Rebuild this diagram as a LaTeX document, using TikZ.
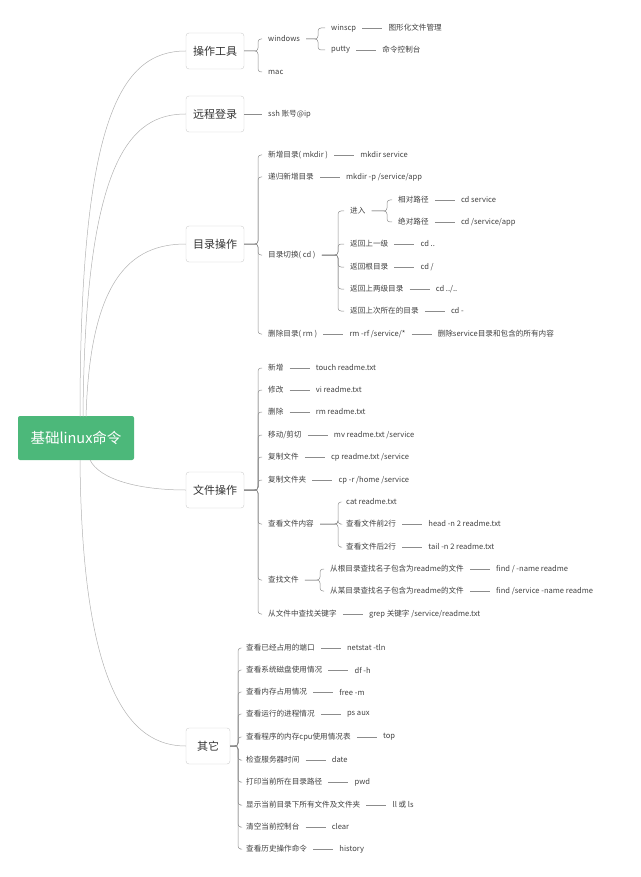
\documentclass[tikz,border=0pt]{standalone}
\usepackage{fontspec}
\setmainfont{Noto Sans CJK SC}
\usetikzlibrary{positioning}
\definecolor{rootg}{RGB}{76,184,122}
\begin{document}
\begin{tikzpicture}[x=1pt,y=-1pt,
  t/.style={anchor=west,inner xsep=6pt,inner ysep=3pt,font=\fontsize{7.6}{9}\selectfont,text=black!75},
  c/.style={t,right=20pt of #1.east,anchor=west},
  l1/.style={draw=black!20,rounded corners=3pt,minimum height=36pt,inner xsep=6pt,font=\fontsize{11}{13}\selectfont,text=black!80,fill=white},
  ln/.style={draw=black!45,line width=0.5pt},
  br/.style={ln,rounded corners=3pt},
  cv/.style={draw=black!30,line width=0.5pt}]
\useasboundingbox (0,0) rectangle (640,877);
\node[fill=rootg,rounded corners=2pt,minimum width=116pt,minimum height=44pt,text=white,font=\fontsize{14.5}{16}\selectfont] (root) at (76,438) {基础linux命令};
% level 1
\node[l1,minimum width=58pt] (a) at (215,51) {操作工具};
\node[l1,minimum width=58pt] (b) at (215,114) {远程登录};
\node[l1,minimum width=58pt] (c) at (215,244) {目录操作};
\node[l1,minimum width=58pt] (d) at (215,490) {文件操作};
\node[l1,minimum width=44pt] (e) at (208,746) {其它};
\draw[cv] (80,417) .. controls (80,120) and (120,51) .. (a.west);
\draw[cv] (83,417) .. controls (85,160) and (130,114) .. (b.west);
\draw[cv] (86,417) .. controls (90,280) and (130,244) .. (c.west);
\draw[cv] (90,460) .. controls (100,480) and (140,490) .. (d.west);
\draw[cv] (80,460) .. controls (82,690) and (130,746) .. (e.west);
% 操作工具
\coordinate (Ba) at (258,0); \coordinate (Bw) at (318,0);
\node[t] (a1) at (262,39) {windows};
\node[t] (a2) at (262,72) {mac};
\node[t] (w1) at (325,28) {winscp};
\node[t] (w2) at (325,50) {putty};
\node[c=w1] (w1a) {图形化文件管理};
\node[c=w2] (w2a) {命令控制台};
\foreach \n in {a1,a2} \draw[br] (a.east) -- (a.east -| Ba) |- (\n.west);
\foreach \n in {w1,w2} \draw[br] (a1.east) -- (a1.east -| Bw) |- (\n.west);
\draw[ln] (w1.east) -- (w1a.west); \draw[ln] (w2.east) -- (w2a.west);
% 远程登录
\node[t] (b1) at (262,114) {ssh 账号@ip};
\draw[ln] (b.east) -- (b1.west);
% 目录操作
\node[t] (c1) at (262,155) {新增目录( mkdir )};
\node[c=c1] (c1a) {mkdir service};
\node[t] (c2) at (262,177) {递归新增目录};
\node[c=c2] (c2a) {mkdir -p /service/app};
\node[t] (c3) at (262,255) {目录切换( cd )};
\node[t] (c4) at (262,334) {删除目录( rm )};
\node[c=c4] (c4a) {rm -rf /service/*};
\node[c=c4a] (c4b) {删除service目录和包含的所有内容};
\foreach \n in {c1,c2,c3,c4} \draw[br] (c.east) -- (c.east -| Ba) |- (\n.west);
\draw[ln] (c1.east) -- (c1a.west); \draw[ln] (c2.east) -- (c2a.west);
\draw[ln] (c4.east) -- (c4a.west); \draw[ln] (c4a.east) -- (c4b.west);
\coordinate (Bc) at (338,0); \coordinate (Bj) at (387,0);
\node[t] (j) at (344,211) {进入};
\node[t] (j1) at (392,200) {相对路径};
\node[c=j1] (j1a) {cd service};
\node[t] (j2) at (392,222) {绝对路径};
\node[c=j2] (j2a) {cd /service/app};
\node[t] (r1) at (344,244) {返回上一级};
\node[c=r1] (r1a) {cd ..};
\node[t] (r2) at (344,267) {返回根目录};
\node[c=r2] (r2a) {cd /};
\node[t] (r3) at (344,289) {返回上两级目录};
\node[c=r3] (r3a) {cd ../..};
\node[t] (r4) at (344,311) {返回上次所在的目录};
\node[c=r4] (r4a) {cd -};
\foreach \n in {j,r1,r2,r3,r4} \draw[br] (c3.east) -- (c3.east -| Bc) |- (\n.west);
\foreach \n in {j1,j2} \draw[br] (j.east) -- (j.east -| Bj) |- (\n.west);
\foreach \n in {j1,j2,r1,r2,r3,r4} \draw[ln] (\n.east) -- (\n a.west);
% 文件操作
\node[t] (d1) at (262,368) {新增};
\node[c=d1] (d1a) {touch readme.txt};
\node[t] (d2) at (262,390) {修改};
\node[c=d2] (d2a) {vi readme.txt};
\node[t] (d3) at (262,412) {删除};
\node[c=d3] (d3a) {rm readme.txt};
\node[t] (d4) at (262,435) {移动/剪切};
\node[c=d4] (d4a) {mv readme.txt /service};
\node[t] (d5) at (262,457) {复制文件};
\node[c=d5] (d5a) {cp readme.txt /service};
\node[t] (d6) at (262,480) {复制文件夹};
\node[c=d6] (d6a) {cp -r /home /service};
\node[t] (d7) at (262,524) {查看文件内容};
\node[t] (d8) at (262,580) {查找文件};
\node[t] (d9) at (262,614) {从文件中查找关键字};
\node[c=d9] (d9a) {grep 关键字 /service/readme.txt};
\foreach \n in {d1,d2,d3,d4,d5,d6,d7,d8,d9} \draw[br] (d.east) -- (d.east -| Ba) |- (\n.west);
\foreach \n in {1,2,3,4,5,6,9} \draw[ln] (d\n.east) -- (d\n a.west);
\coordinate (Bd7) at (338,0); \coordinate (Bd8) at (320,0);
\node[t] (k1) at (340,502) {cat readme.txt};
\node[t] (k2) at (340,524) {查看文件前2行};
\node[c=k2] (k2a) {head -n 2 readme.txt};
\node[t] (k3) at (340,547) {查看文件后2行};
\node[c=k3] (k3a) {tail -n 2 readme.txt};
\foreach \n in {k1,k2,k3} \draw[br] (d7.east) -- (d7.east -| Bd7) |- (\n.west);
\draw[ln] (k2.east) -- (k2a.west); \draw[ln] (k3.east) -- (k3a.west);
\node[t] (f1) at (324,569) {从根目录查找名子包含为readme的文件};
\node[c=f1] (f1a) {find / -name readme};
\node[t] (f2) at (324,591) {从某目录查找名子包含为readme的文件};
\node[c=f2] (f2a) {find /service -name readme};
\foreach \n in {f1,f2} \draw[br] (d8.east) -- (d8.east -| Bd8) |- (\n.west);
\draw[ln] (f1.east) -- (f1a.west); \draw[ln] (f2.east) -- (f2a.west);
% 其它
\coordinate (Be) at (238,0);
\foreach \i/\y/\s/\cmd in {
 1/648/查看已经占用的端口/netstat -tln,
 2/670/查看系统磁盘使用情况/df -h,
 3/692/查看内存占用情况/free -m,
 4/714/查看运行的进程情况/ps aux,
 5/737/查看程序的内存cpu使用情况表/top,
 6/760/检查服务器时间/date,
 7/782/打印当前所在目录路径/pwd,
 8/805/显示当前目录下所有文件及文件夹/ll 或 ls,
 9/827/清空当前控制台/clear,
 10/849/查看历史操作命令/history} {
  \node[t] (e\i) at (240,\y) {\s};
  \node[c=e\i] (e\i a) {\cmd};
  \draw[br] (e.east) -- (e.east -| Be) |- (e\i.west);
  \draw[ln] (e\i.east) -- (e\i a.west);
}
\end{tikzpicture}
\end{document}
